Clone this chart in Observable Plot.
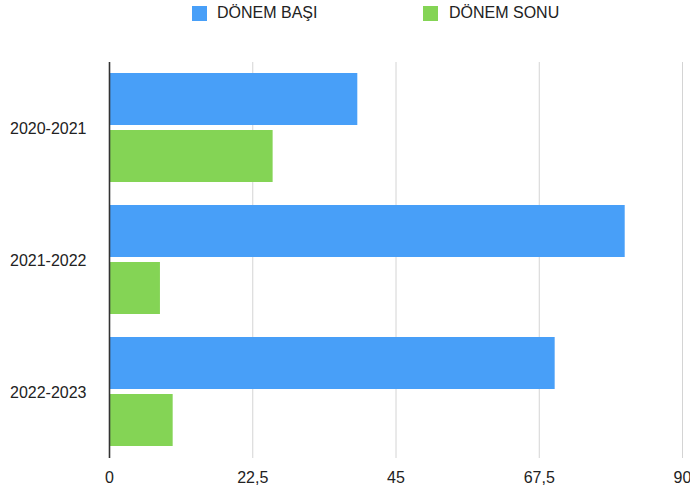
<!DOCTYPE html>
<html>
<head>
<meta charset="utf-8">
<script src="https://cdn.jsdelivr.net/npm/d3@7"></script>
<script src="https://cdn.jsdelivr.net/npm/@observablehq/plot@0.6"></script>
<style>
  body { margin: 0; background: #fff; font-family: "Liberation Sans", Arial, Helvetica, sans-serif; }
  #legend { position: relative; width: 690px; height: 30px; font-size: 16px; color: #222; }
  .sw { position: absolute; top: 6px; width: 15px; height: 15px; }
  .lb { position: absolute; top: 4px; line-height: 18px; white-space: nowrap; }
</style>
</head>
<body>
<div id="legend"></div>
<div id="chart"></div>
<script>
const years = ["2020-2021", "2021-2022", "2022-2023"];
const series = ["DÖNEM BAŞI", "DÖNEM SONU"];
const donemBasi = [39, 81, 70];
const donemSonu = [25.7, 8, 10];
const xTicks = [0, 22.5, 45, 67.5, 90];
const colors = ["#489ff8", "#84d455"];

const data = [];
years.forEach((y, i) => {
  data.push({year: y, series: series[0], value: donemBasi[i]});
  data.push({year: y, series: series[1], value: donemSonu[i]});
});

// legend
const legend = document.getElementById("legend");
const legendPos = [[192, 217], [423, 449]];
series.forEach((s, i) => {
  const sw = document.createElement("div");
  sw.className = "sw";
  sw.style.left = legendPos[i][0] + "px";
  sw.style.background = colors[i];
  const lb = document.createElement("div");
  lb.className = "lb";
  lb.style.left = legendPos[i][1] + "px";
  lb.textContent = s;
  legend.appendChild(sw);
  legend.appendChild(lb);
});

const fmt = d => String(d).replace(".", ",");

const chart = Plot.plot({
  width: 690,
  height: 460,
  marginTop: 32,
  marginBottom: 32,
  marginLeft: 109,
  marginRight: 8,
  style: {fontFamily: '"Liberation Sans", Arial, Helvetica, sans-serif', fontSize: "16px", color: "#222", background: "#fff"},
  x: {domain: [0, 90], ticks: xTicks, tickFormat: fmt, tickSize: 0, tickPadding: 13, label: null},
  y: {domain: series, paddingInner: 0.087, paddingOuter: 0.19, axis: null},
  fy: {domain: years, padding: 0, tickSize: 0, tickPadding: 23, label: null, axis: "left"},
  color: {domain: series, range: colors},
  marks: [
    Plot.ruleX(xTicks.filter(d => d > 0), {stroke: "#d4d4d4", strokeWidth: 1}),
    Plot.barX(data, {x: "value", y: "series", fy: "year", fill: "series"}),
    Plot.ruleX([0], {stroke: "#333", strokeWidth: 1.6})
  ]
});
document.getElementById("chart").appendChild(chart);
</script>
</body>
</html>
